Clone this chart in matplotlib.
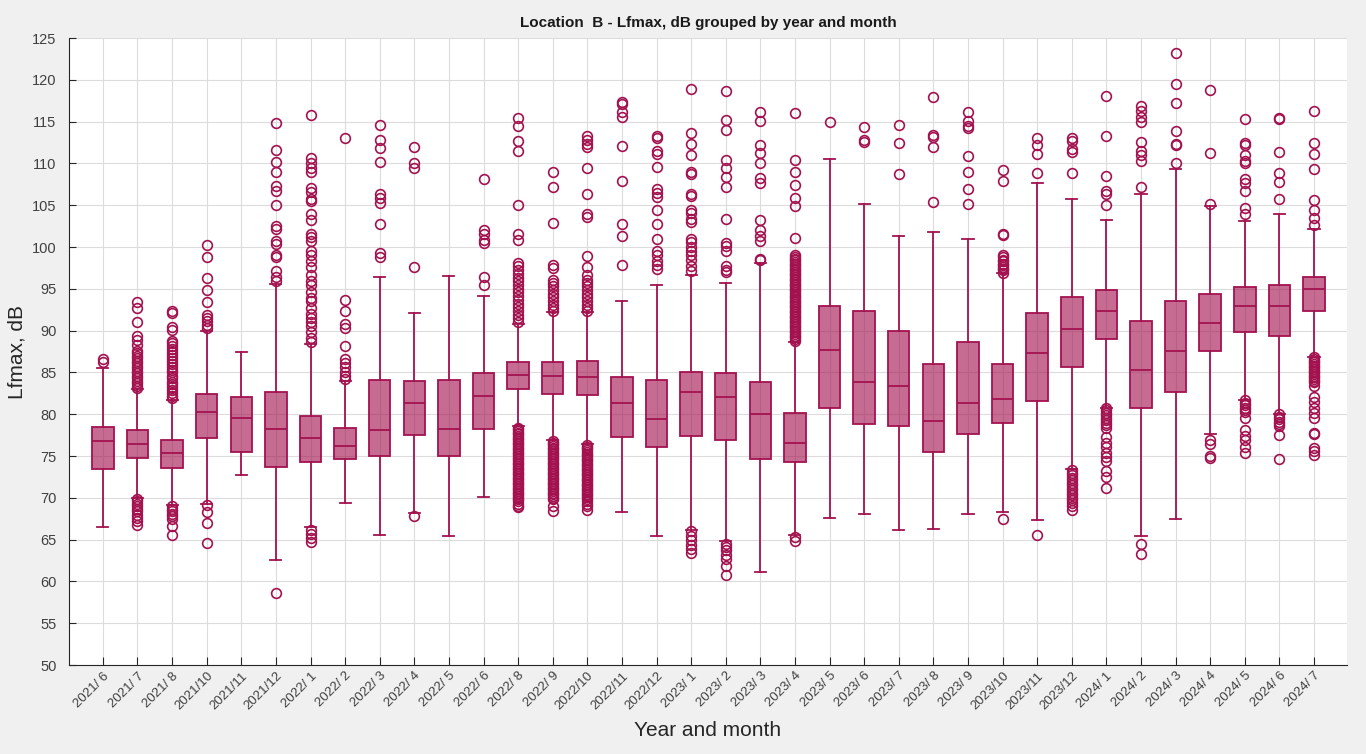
import matplotlib.pyplot as plt
import numpy as np

plt.rcParams['font.family'] = ['Liberation Sans', 'DejaVu Sans']

months = ['2021/ 6', '2021/ 7', '2021/ 8', '2021/10', '2021/11', '2021/12',
          '2022/ 1', '2022/ 2', '2022/ 3', '2022/ 4', '2022/ 5', '2022/ 6',
          '2022/ 8', '2022/ 9', '2022/10', '2022/11', '2022/12', '2023/ 1',
          '2023/ 2', '2023/ 3', '2023/ 4', '2023/ 5', '2023/ 6', '2023/ 7',
          '2023/ 8', '2023/ 9', '2023/10', '2023/11', '2023/12', '2024/ 1',
          '2024/ 2', '2024/ 3', '2024/ 4', '2024/ 5', '2024/ 6', '2024/ 7']

# box statistics per month (dB)
q1 = [73.5, 74.8, 73.6, 77.2, 75.5, 73.7, 74.3, 74.6, 75.0, 77.5, 75.0, 78.2,
      83.0, 82.4, 82.3, 77.3, 76.1, 77.4, 76.9, 74.6, 74.3, 80.7, 78.8, 78.6,
      75.5, 77.6, 78.9, 81.6, 85.7, 89.0, 80.8, 82.7, 87.6, 89.8, 89.4, 92.4]
med = [76.8, 76.4, 75.4, 80.3, 79.5, 78.2, 77.1, 76.2, 78.1, 81.4, 78.2, 82.2,
       84.7, 84.6, 84.5, 81.3, 79.4, 82.6, 82.0, 80.0, 76.5, 87.7, 83.8, 83.4,
       79.2, 81.3, 81.8, 87.3, 90.2, 92.3, 85.3, 87.6, 90.9, 92.9, 93.0, 95.0]
q3 = [78.5, 78.1, 76.9, 82.4, 82.0, 82.6, 79.8, 78.3, 84.1, 84.0, 84.1, 84.9,
      86.2, 86.2, 86.4, 84.4, 84.1, 85.1, 84.9, 83.9, 80.1, 92.9, 92.3, 89.9,
      86.0, 88.6, 86.0, 92.1, 94.0, 94.8, 91.1, 93.5, 94.4, 95.2, 95.5, 96.4]
whis_lo = [66.5, 70.0, 69.1, 69.3, 72.7, 62.6, 66.5, 69.4, 65.5, 68.2, 65.4, 70.1,
           78.6, 76.9, 76.4, 68.3, 65.4, 66.1, 64.8, 61.1, 65.5, 67.6, 68.1, 66.1,
           66.3, 68.1, 68.3, 67.3, 73.4, 80.8, 65.4, 67.5, 77.6, 81.7, 80.0, 86.9]
whis_hi = [85.5, 83.0, 81.7, 90.0, 87.5, 95.6, 88.4, 84.0, 96.4, 92.1, 96.5, 94.1,
           90.8, 92.2, 92.2, 93.6, 95.5, 96.6, 95.7, 98.1, 88.6, 110.5, 105.2, 101.3,
           101.8, 100.9, 96.9, 107.7, 105.7, 103.2, 106.4, 109.3, 104.9, 103.1, 104.0, 102.1]

# outliers per month (dB)
outliers = [
    [86.6, 86.2],
    [93.4, 92.7, 91.0, 89.4, 88.9, 88.3, 87.6, 87.3, 87.0, 86.7, 86.4, 86.1, 85.8,
     85.5, 85.2, 84.9, 84.6, 84.3, 84.0, 83.7, 83.4, 83.1,
     69.9, 69.6, 69.3, 69.0, 68.7, 68.4, 68.0, 67.6, 67.2, 66.8],
    [92.4, 92.1, 90.4, 90.1, 88.8, 88.5, 88.1, 87.8, 87.4, 87.1, 86.7, 86.4, 86.0,
     85.7, 85.3, 85.0, 84.6, 84.3, 83.9, 83.6, 83.2, 82.9, 82.5, 82.2, 81.9,
     69.0, 68.7, 68.4, 68.1, 67.8, 67.5, 66.6, 65.6],
    [100.3, 98.8, 96.3, 94.9, 93.4, 91.9, 91.5, 91.1, 90.7, 90.3,
     69.2, 68.3, 67.0, 64.6],
    [],
    [114.8, 111.6, 110.2, 109.0, 107.3, 106.7, 105.0, 102.5, 102.2, 100.7, 100.4,
     99.0, 98.8, 97.1, 96.4, 95.9, 58.6],
    [115.8, 110.7, 110.1, 109.5, 109.0, 107.1, 106.6, 105.8, 105.5, 103.9, 103.2,
     101.6, 101.2, 100.7, 99.5, 99.0, 98.3, 97.6, 96.6, 95.9, 95.4, 94.6, 93.9,
     93.5, 92.7, 92.0, 91.5, 91.0, 90.6, 89.8, 89.1, 88.6,
     66.2, 65.7, 65.2, 64.7],
    [113.0, 93.7, 92.4, 90.8, 90.3, 88.2, 86.6, 86.1, 85.6, 85.1, 84.6, 84.2],
    [114.6, 112.8, 111.8, 110.2, 106.4, 105.9, 105.3, 102.8, 99.3, 98.8],
    [112.0, 110.0, 109.5, 97.6, 67.8],
    [],
    [108.1, 102.0, 101.5, 100.8, 100.5, 96.4, 95.4],
    [115.4, 114.5, 112.7, 111.5, 105.0, 101.5, 100.8, 98.1, 97.7, 97.2, 96.8,
     96.3, 95.9, 95.4, 95.0, 94.6, 94.1, 93.7, 93.2, 92.8, 92.3, 91.9, 91.5, 91.0,
     78.4, 78.2, 78.0, 77.8, 77.6, 77.4, 77.2, 77.0, 76.8, 76.6, 76.4, 76.2,
     76.0, 75.8, 75.6, 75.4, 75.2, 75.0, 74.8, 74.6, 74.4, 74.2, 74.0, 73.8,
     73.6, 73.4, 73.2, 73.0, 72.8, 72.6, 72.4, 72.2, 72.0, 71.8, 71.6, 71.4,
     71.2, 71.0, 70.8, 70.6, 70.4, 70.2, 70.0, 69.8, 69.6, 69.3, 69.0, 68.9],
    [109.0, 107.2, 102.9, 97.8, 97.5, 96.1, 95.7, 95.3, 94.8, 94.4, 94.0, 93.5,
     93.1, 92.7, 92.3,
     76.8, 76.6, 76.4, 76.2, 76.0, 75.8, 75.6, 75.4, 75.2, 75.0, 74.8, 74.6,
     74.4, 74.2, 74.0, 73.8, 73.6, 73.4, 73.2, 73.0, 72.8, 72.6, 72.4, 72.2,
     72.0, 71.8, 71.6, 71.4, 71.2, 71.0, 70.8, 70.6, 70.4, 70.2, 70.0, 69.8,
     69.0, 68.4],
    [113.3, 112.8, 112.3, 112.0, 109.4, 106.3, 103.9, 103.6, 98.9, 97.6, 96.6,
     96.1, 95.7, 95.3, 94.8, 94.4, 94.0, 93.5, 93.1, 92.7, 92.3,
     76.3, 76.1, 75.9, 75.7, 75.5, 75.3, 75.1, 74.9, 74.7, 74.5, 74.3, 74.1,
     73.9, 73.7, 73.5, 73.3, 73.1, 72.9, 72.7, 72.5, 72.3, 72.1, 71.9, 71.7,
     71.5, 71.3, 71.1, 70.9, 70.7, 70.5, 70.3, 70.1, 69.9, 69.6, 69.3, 69.0,
     68.6],
    [117.4, 117.1, 116.1, 115.6, 112.1, 107.9, 102.7, 101.3, 97.9],
    [113.3, 113.0, 111.5, 111.1, 109.6, 106.9, 106.5, 106.0, 104.4, 102.8, 101.0,
     99.5, 99.0, 98.3, 97.8, 97.4],
    [118.9, 113.6, 112.3, 111.0, 109.0, 108.7, 106.4, 106.1, 104.4, 104.1, 103.4,
     103.0, 100.9, 100.6, 100.0, 99.5, 99.0, 98.4, 97.7, 97.1,
     66.0, 65.4, 64.9, 64.4, 63.9, 63.4],
    [118.7, 115.2, 114.0, 110.4, 109.4, 108.4, 107.2, 103.3, 100.5, 100.1, 99.5,
     97.7, 97.3, 97.0,
     64.5, 64.1, 63.7, 63.2, 62.7, 61.8, 60.8],
    [116.2, 115.1, 112.2, 111.2, 110.0, 108.2, 107.7, 103.2, 102.0, 101.3, 100.7,
     98.6, 98.4],
    [116.0, 110.4, 109.0, 107.4, 105.9, 104.9, 101.1,
     99.0, 98.8, 98.6, 98.4, 98.2, 98.0, 97.8, 97.6, 97.4, 97.2, 97.0, 96.8,
     96.6, 96.4, 96.2, 96.0, 95.8, 95.6, 95.4, 95.2, 95.0, 94.8, 94.6, 94.4,
     94.2, 94.0, 93.8, 93.6, 93.4, 93.2, 93.0, 92.8, 92.6, 92.4, 92.2, 92.0,
     91.8, 91.6, 91.4, 91.2, 91.0, 90.8, 90.6, 90.4, 90.2, 90.0, 89.8, 89.6,
     89.4, 89.2, 89.0, 88.8, 65.3, 64.8],
    [114.9],
    [114.3, 112.8, 112.6],
    [114.6, 112.5, 108.7],
    [118.0, 113.4, 113.2, 112.0, 105.4],
    [116.2, 115.1, 114.5, 114.2, 110.9, 109.0, 106.9, 105.2],
    [109.2, 107.9, 101.5, 101.4, 99.1, 98.8, 98.5, 98.3, 98.0, 97.8, 97.6, 97.4,
     97.2, 96.9, 67.5],
    [113.0, 112.2, 111.1, 108.8, 65.5],
    [113.0, 112.7, 111.7, 111.4, 108.9,
     73.3, 73.0, 72.7, 72.4, 72.1, 71.8, 71.5, 71.2, 70.9, 70.6, 70.3, 70.0,
     69.7, 69.4, 69.0, 68.6],
    [118.1, 113.3, 108.5, 106.7, 106.4, 105.0,
     80.8, 80.5, 80.2, 79.9, 79.6, 79.3, 79.0, 78.7, 78.4, 77.3, 76.6, 76.1,
     75.4, 74.9, 74.4, 73.2, 72.5, 71.2],
    [116.9, 116.3, 115.6, 114.9, 112.6, 111.5, 111.0, 110.3, 107.2, 64.5, 63.3],
    [123.2, 119.5, 117.2, 113.9, 112.3, 112.2, 110.0],
    [118.8, 111.2, 105.1, 76.9, 76.4, 75.0, 74.8],
    [115.3, 112.4, 112.2, 111.0, 110.3, 110.0, 108.1, 107.6, 106.7, 104.7, 104.0,
     81.7, 81.4, 81.1, 80.8, 80.5, 80.3, 79.5, 78.1, 77.4, 76.9, 76.1, 75.4],
    [115.4, 115.3, 111.4, 108.9, 107.8, 105.7,
     80.0, 79.7, 79.4, 79.1, 78.8, 78.6, 77.5, 74.6],
    [116.3, 112.4, 111.1, 109.3, 105.6, 104.4, 103.5, 102.6,
     86.8, 86.6, 86.4, 86.2, 86.0, 85.8, 85.6, 85.4, 85.2, 85.0, 84.8, 84.6,
     84.4, 84.2, 84.0, 83.8, 83.4, 82.0, 81.5, 80.8, 80.1, 79.5, 77.8, 77.6,
     75.9, 75.6, 75.1],
]

edge = '#a3124f'

stats = []
for i, m in enumerate(months):
    stats.append({'med': med[i], 'q1': q1[i], 'q3': q3[i],
                  'whislo': whis_lo[i], 'whishi': whis_hi[i],
                  'fliers': outliers[i], 'label': m})

fig = plt.figure(figsize=(13.66, 7.54), dpi=100, facecolor='#f0f0f0')
ax = fig.add_axes([0.0505, 0.118, 0.9355, 0.8316])
ax.set_facecolor('white')

pos = np.arange(1, len(months) + 1)
bp = ax.bxp(stats, positions=pos, widths=0.62, patch_artist=True,
            boxprops=dict(facecolor=edge, edgecolor=edge, linewidth=1.3),
            medianprops=dict(color=edge, linewidth=1.3),
            whiskerprops=dict(color=edge, linewidth=1.3),
            capprops=dict(color=edge, linewidth=1.3),
            flierprops=dict(marker='o', markerfacecolor='none', markeredgecolor=edge,
                            markersize=7, markeredgewidth=1.2, linestyle='none'),
            capwidths=0.32)
# semi-transparent fill, opaque outline
for b in bp['boxes']:
    b.set_facecolor((0xa3 / 255, 0x12 / 255, 0x4f / 255, 0.62))

ax.set_xlim(0.02, len(months) + 0.95)
ax.set_ylim(50, 125)
ax.set_yticks(np.arange(50, 126, 5))
ax.set_xticks(pos)
ax.set_xticklabels(months, rotation=45, ha='right', rotation_mode='anchor',
                   fontsize=9.5, color='#404040')
ax.tick_params(axis='y', labelsize=10.5, labelcolor='#404040', color='#262626',
               direction='in', length=5, pad=9)
ax.tick_params(axis='x', direction='in', length=6, color='#262626')
ax.grid(True, color='#dcdcdc', linewidth=0.8)
ax.set_axisbelow(True)
for s in ax.spines.values():
    s.set_color('#262626')
    s.set_linewidth(0.8)
ax.spines['top'].set_visible(False)
ax.spines['right'].set_visible(False)

ax.set_title('Location  B - Lfmax, dB grouped by year and month',
             fontsize=11, fontweight='bold', color='#1a1a1a', pad=8)
ax.set_ylabel('Lfmax, dB', fontsize=15, color='#262626')
ax.set_xlabel('Year and month', fontsize=15, color='#262626', labelpad=6)

fig.savefig('out.png', dpi=100, facecolor=fig.get_facecolor())
